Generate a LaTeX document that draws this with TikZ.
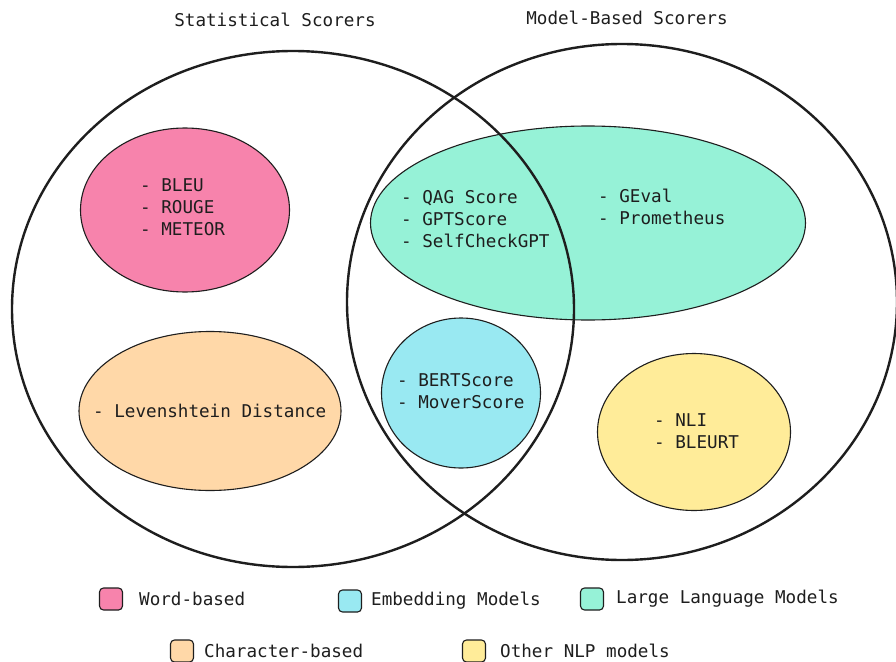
\documentclass[tikz,border=0pt]{standalone}
\usepackage{fontspec}
\setmonofont{DejaVu Sans Mono}
\usepackage{xcolor}
\usepackage{tikz}
\usetikzlibrary{shapes.geometric}
\definecolor{wordpink}{HTML}{F783AC}
\definecolor{charorange}{HTML}{FFD8A8}
\definecolor{embedcyan}{HTML}{99E9F2}
\definecolor{llmgreen}{HTML}{96F2D7}
\definecolor{nlpyellow}{HTML}{FFEC99}
\definecolor{vink}{HTML}{1E1E1E}
\tikzset{
  vtext/.style={font=\ttfamily\fontsize{17.6}{22}\selectfont,text=vink,inner sep=0pt,anchor=west,align=left},
  vblobstyle/.style={ellipse,draw=vink,line width=1.1pt,inner sep=0pt},
  vscorer/.style={ellipse,draw=vink,line width=2.4pt,inner sep=0pt},
  vswatch/.style={draw=vink,line width=1.1pt,rounded corners=4pt,minimum width=23pt,minimum height=22pt,inner sep=0pt}}
% ellipse: name, colour, centre x, centre y, width, height
\newcommand{\vblob}[6]{%
  \node[vblobstyle,fill=#2,minimum width=#5,minimum height=#6] (#1) at (#3,#4) {};}
% list of scorers: name, left x, middle y, lines
\newcommand{\vlist}[4]{\node[vtext] (#1) at (#2,#3) {#4};}
% legend key: name, colour, x, y, text x, text
\newcommand{\vkey}[6]{%
  \node[vswatch,fill=#2] (#1) at (#3,#4) {};
  \node[vtext] (#1txt) at (#5,#4) {#6};}

\begin{document}
\begin{tikzpicture}[x=1pt,y=-1pt]
  \useasboundingbox[fill=white] (0,0) rectangle (896,661);
  \vblob{word}{wordpink}{185}{210}{209pt}{164pt}
  \vblob{char}{charorange}{210}{411}{262pt}{159pt}
  \vblob{llm}{llmgreen}{588}{223}{435pt}{194pt}
  \vblob{embed}{embedcyan}{461}{393}{159pt}{150pt}
  \vblob{nlp}{nlpyellow}{694}{432}{193pt}{157pt}
  \node[vscorer,minimum width=562pt,minimum height=516pt] (stat) at (293,309) {};
  \node[vscorer,minimum width=550pt,minimum height=516pt] (model) at (622,302) {};
  \node[vtext,anchor=center] (stattitle) at (275,20) {Statistical Scorers};
  \node[vtext,anchor=center] (modeltitle) at (627,18) {Model-Based Scorers};
  \vlist{wordlist}{140}{207}{- BLEU\\- ROUGE\\- METEOR}
  \vlist{charlist}{93}{411}{- Levenshtein Distance}
  \vlist{llmlist}{401}{219}{- QAG Score\\- GPTScore\\- SelfCheckGPT}
  \vlist{llmlisttwo}{598}{207}{- GEval\\- Prometheus}
  \vlist{embedlist}{397}{391}{- BERTScore\\- MoverScore}
  \vlist{nlplist}{654}{431}{- NLI\\- BLEURT}
  \vkey{wordkey}{wordpink}{111}{599}{139}{Word-based}
  \vkey{embedkey}{embedcyan}{350}{601}{371}{Embedding Models}
  \vkey{llmkey}{llmgreen}{592}{599}{616}{Large Language Models}
  \vkey{charkey}{charorange}{182}{651}{204}{Character-based}
  \vkey{nlpkey}{nlpyellow}{474}{651}{500}{Other NLP models}
\end{tikzpicture}
\end{document}
